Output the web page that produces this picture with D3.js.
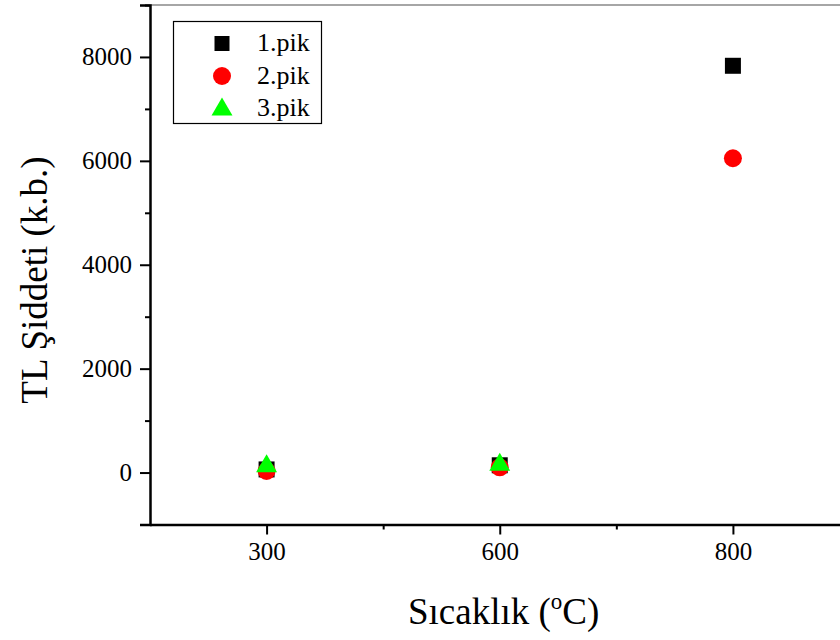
<!DOCTYPE html>
<html>
<head>
<meta charset="utf-8">
<script src="https://cdn.jsdelivr.net/npm/d3@7/dist/d3.min.js"></script>
<style>
  html, body { margin: 0; padding: 0; background: #fff; }
  svg { display: block; font-family: "Liberation Serif", "Times New Roman", serif; }
</style>
</head>
<body>
<svg id="chart" width="840" height="640"></svg>
<script>
// Annealing temperatures (°C) and TL intensity of each glow peak
const temperatures = ["300", "600", "800"];
const peak1 = [60, 140, 7830];
const peak2 = [30, 100, 6050];
const peak3 = [120, 150, null];
const seriesNames = ["1.pik", "2.pik", "3.pik"];
const yTickValues = [0, 2000, 4000, 6000, 8000];

const svg = d3.select("#chart");
const plotLeft = 150, plotRight = 849.5, plotTop = 5, plotBottom = 524.5;
const serif = "Liberation Serif";

const x = d3.scaleLinear().domain([-0.5, 2.5]).range([plotLeft, plotRight]);
const y = d3.scaleLinear().domain([-1000, 9000]).range([plotBottom, plotTop]);

// top frame line
svg.append("line")
  .attr("x1", plotLeft).attr("x2", 840).attr("y1", plotTop).attr("y2", plotTop)
  .attr("stroke", "#888").attr("stroke-width", 1.5);

// y axis: minor and major ticks
const yMinor = svg.append("g").attr("transform", `translate(${plotLeft},0)`)
  .call(d3.axisLeft(y).tickValues(d3.range(-1000, 9001, 1000).filter(v => v % 2000 !== 0))
    .tickSize(5).tickFormat(""));
yMinor.select(".domain").remove();
yMinor.selectAll("line").attr("stroke-width", 2);
const yMajor = svg.append("g").attr("transform", `translate(${plotLeft},0)`)
  .call(d3.axisLeft(y).tickValues(yTickValues).tickSize(10).tickPadding(8).tickFormat(d3.format("d")));
yMajor.selectAll("text").attr("font-size", 25).attr("font-family", serif).attr("fill", "#000");
yMajor.selectAll("line").attr("stroke-width", 2);
yMajor.select(".domain").attr("stroke-width", 2.5);

// x axis
const xMinor = svg.append("g").attr("transform", `translate(0,${plotBottom})`)
  .call(d3.axisBottom(x).tickValues([0.5, 1.5, 2.5]).tickSize(5).tickFormat(""));
xMinor.select(".domain").remove();
xMinor.selectAll("line").attr("stroke-width", 2);
const xMajor = svg.append("g").attr("transform", `translate(0,${plotBottom})`)
  .call(d3.axisBottom(x).tickValues([0, 1, 2]).tickSize(10).tickPadding(8)
    .tickFormat(i => temperatures[i]));
xMajor.select(".domain").attr("d", `M${plotLeft},0.5H840`).attr("stroke-width", 2.5);
xMajor.selectAll("line").attr("stroke-width", 2);
xMajor.selectAll("text").attr("font-size", 25).attr("font-family", serif).attr("fill", "#000");

// markers
const plot = svg.append("g");
const sym = {
  sq: d3.symbol().type(d3.symbolSquare).size(256),
  ci: d3.symbol().type(d3.symbolCircle).size(254),
  tr: d3.symbol().type(d3.symbolTriangle).size(190)
};
function drawSeries(vals, gen, color) {
  plot.selectAll(null).data(vals.map((v, i) => ({v, i})).filter(d => d.v !== null))
    .join("path")
    .attr("d", gen)
    .attr("transform", d => `translate(${x(d.i)},${y(d.v)})`)
    .attr("fill", color);
}
drawSeries(peak1, sym.sq, "#000");
drawSeries(peak2, sym.ci, "#ff0000");
drawSeries(peak3, sym.tr, "#00ff00");

// legend
const lg = svg.append("g");
lg.append("rect").attr("x", 173.5).attr("y", 21.5).attr("width", 148).attr("height", 102)
  .attr("fill", "#fff").attr("stroke", "#000").attr("stroke-width", 1.2);
const legendSym = [
  d3.symbol().type(d3.symbolSquare).size(225),
  d3.symbol().type(d3.symbolCircle).size(254),
  d3.symbol().type(d3.symbolTriangle).size(190)
];
const legendColors = ["#000", "#ff0000", "#00ff00"];
seriesNames.forEach((name, i) => {
  const cy = 43.5 + i * 32.5;
  lg.append("path").attr("d", legendSym[i]())
    .attr("transform", `translate(222,${cy + (i === 2 ? 1 : 0)})`).attr("fill", legendColors[i]);
  lg.append("text").attr("x", 257).attr("y", cy + 7.5).attr("font-size", 26)
    .attr("font-family", serif).attr("fill", "#000").text(name);
});

// axis titles
svg.append("text")
  .attr("transform", "translate(47,280) rotate(-90)")
  .attr("text-anchor", "middle").attr("font-size", 37).attr("font-family", serif).attr("fill", "#000")
  .text("TL Şiddeti (k.b.)");
const xt = svg.append("text").attr("x", 408).attr("y", 624)
  .attr("text-anchor", "start").attr("font-size", 37).attr("font-family", serif).attr("fill", "#000");
xt.append("tspan").text("Sıcaklık (");
xt.append("tspan").attr("font-size", 23).attr("dy", -15).text("o");
xt.append("tspan").attr("dy", 15).text("C)");
</script>
</body>
</html>
